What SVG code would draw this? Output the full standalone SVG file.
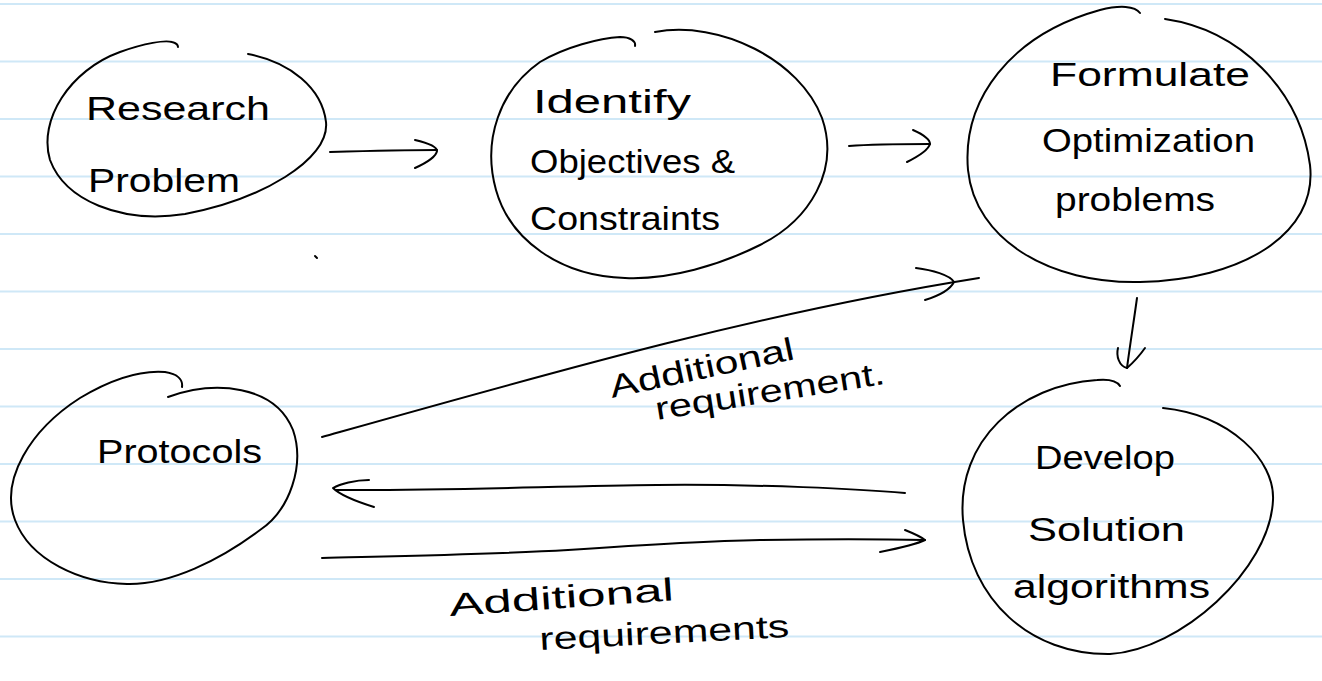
<svg xmlns="http://www.w3.org/2000/svg" width="1322" height="681" viewBox="0 0 1322 681">
  <defs>
    <style>
      .rule { stroke: #cfe8f7; stroke-width: 2; }
      .ink { fill: none; stroke: #000; stroke-width: 2; stroke-linecap: round; stroke-linejoin: round; }
      .hand { font-family: "Liberation Sans", "DejaVu Sans", sans-serif; font-size: 34px; fill: #000; }
      .lbl { font-family: "Liberation Sans", "DejaVu Sans", sans-serif; font-size: 32px; fill: #000; }
    </style>
  </defs>
  <rect x="0" y="0" width="1322" height="681" fill="#ffffff"/>
  <g id="ruled-lines">
    <line class="rule" x1="0" y1="4" x2="1322" y2="4"/>
    <line class="rule" x1="0" y1="61.5" x2="1322" y2="61.5"/>
    <line class="rule" x1="0" y1="119" x2="1322" y2="119"/>
    <line class="rule" x1="0" y1="176.5" x2="1322" y2="176.5"/>
    <line class="rule" x1="0" y1="234" x2="1322" y2="234"/>
    <line class="rule" x1="0" y1="291.5" x2="1322" y2="291.5"/>
    <line class="rule" x1="0" y1="349" x2="1322" y2="349"/>
    <line class="rule" x1="0" y1="406.5" x2="1322" y2="406.5"/>
    <line class="rule" x1="0" y1="464" x2="1322" y2="464"/>
    <line class="rule" x1="0" y1="521.5" x2="1322" y2="521.5"/>
    <line class="rule" x1="0" y1="579" x2="1322" y2="579"/>
    <line class="rule" x1="0" y1="636.5" x2="1322" y2="636.5"/>
  </g>

  <g id="node-research">
    <path class="ink" d="M248,54 C290,62 322,88 326,122 C330,160 260,200 185,214 C120,224 65,200 50,160 C38,120 70,70 120,52 C145,43 165,40 172,42 C176,43 178,45 178,47"/>
    <text class="hand" x="86" y="120" textLength="184" lengthAdjust="spacingAndGlyphs">Research</text>
    <text class="hand" x="88" y="192" textLength="152" lengthAdjust="spacingAndGlyphs">Problem</text>
  </g>

  <g id="node-identify">
    <path class="ink" d="M655,32 C720,20 800,60 822,118 C840,170 810,220 760,245 C720,265 670,280 625,278 C560,276 510,240 496,190 C482,140 500,90 540,62 C565,47 600,38 620,37 C630,37 636,41 635,46"/>
    <text class="hand" x="533" y="113" textLength="158" lengthAdjust="spacingAndGlyphs">Identify</text>
    <text class="hand" x="530" y="173" textLength="205" lengthAdjust="spacingAndGlyphs">Objectives &amp;</text>
    <text class="hand" x="530" y="230" textLength="190" lengthAdjust="spacingAndGlyphs">Constraints</text>
  </g>

  <g id="node-formulate">
    <path class="ink" d="M1165,19 C1240,30 1300,90 1310,165 C1318,235 1240,280 1140,282 C1050,284 975,240 968,170 C962,100 1010,35 1100,10 C1120,5 1135,6 1140,13"/>
    <text class="hand" x="1050" y="86" textLength="200" lengthAdjust="spacingAndGlyphs">Formulate</text>
    <text class="hand" x="1042" y="152" textLength="213" lengthAdjust="spacingAndGlyphs">Optimization</text>
    <text class="hand" x="1055" y="211" textLength="160" lengthAdjust="spacingAndGlyphs">problems</text>
  </g>

  <g id="node-develop">
    <path class="ink" d="M1163,408 C1230,415 1275,460 1273,500 C1270,570 1180,650 1110,654 C1030,655 970,600 963,520 C956,440 1020,385 1097,380 C1108,379 1117,381 1120,386"/>
    <text class="hand" x="1035" y="469" textLength="140" lengthAdjust="spacingAndGlyphs">Develop</text>
    <text class="hand" x="1028" y="541" textLength="157" lengthAdjust="spacingAndGlyphs">Solution</text>
    <text class="hand" x="1013" y="598" textLength="197" lengthAdjust="spacingAndGlyphs">algorithms</text>
  </g>

  <g id="node-protocols">
    <path class="ink" d="M168,397 C215,380 275,385 293,430 C305,465 290,510 260,530 C220,560 170,585 127,584 C80,583 30,560 15,520 C0,480 30,430 80,398 C110,380 140,370 165,372 C178,374 183,380 182,387"/>
    <text class="hand" x="97" y="463" textLength="165" lengthAdjust="spacingAndGlyphs">Protocols</text>
  </g>

  <g id="connectors">
    <path class="ink" d="M330,152 C365,151 400,150 437,150"/>
    <path class="ink" d="M415,140 C428,143 437,147 437,151 C436,157 426,163 415,168"/>

    <path class="ink" d="M849,146 C875,144 905,144 930,144"/>
    <path class="ink" d="M913,130 C922,134 930,139 930,144 C928,151 917,157 907,162"/>

    <path class="ink" d="M1137,298 C1134,320 1130,345 1127,368"/>
    <path class="ink" d="M1118,348 C1116,356 1119,366 1127,368 C1134,362 1140,355 1145,348"/>

    <path class="ink" d="M322,437 C560,370 760,313 979,278"/>
    <path class="ink" d="M916,268 C932,270 950,275 954,282 C950,290 938,296 925,300"/>

    <path class="ink" d="M905,493 C860,489 760,484 657,485 C560,486 440,491 336,490"/>
    <path class="ink" d="M369,480 C355,480 340,484 333,488 C340,495 358,502 374,507"/>

    <path class="ink" d="M322,558 C400,556 500,554 568,550 C640,545 700,541 760,540 C820,539 880,539 925,540"/>
    <path class="ink" d="M905,530 C910,532 920,536 925,540 C915,545 895,549 880,552"/>

    <text class="lbl" transform="translate(612,398) rotate(-12)" textLength="188" lengthAdjust="spacingAndGlyphs">Additional</text>
    <text class="lbl" transform="translate(657,420) rotate(-9)" textLength="232" lengthAdjust="spacingAndGlyphs">requirement.</text>

    <text class="lbl" transform="translate(450,616) rotate(-4)" textLength="225" lengthAdjust="spacingAndGlyphs">Additional</text>
    <text class="lbl" transform="translate(540,650) rotate(-3)" textLength="250" lengthAdjust="spacingAndGlyphs">requirements</text>
  </g>

  <path id="stray-mark" class="ink" d="M315,256 L317,258"/>
</svg>
